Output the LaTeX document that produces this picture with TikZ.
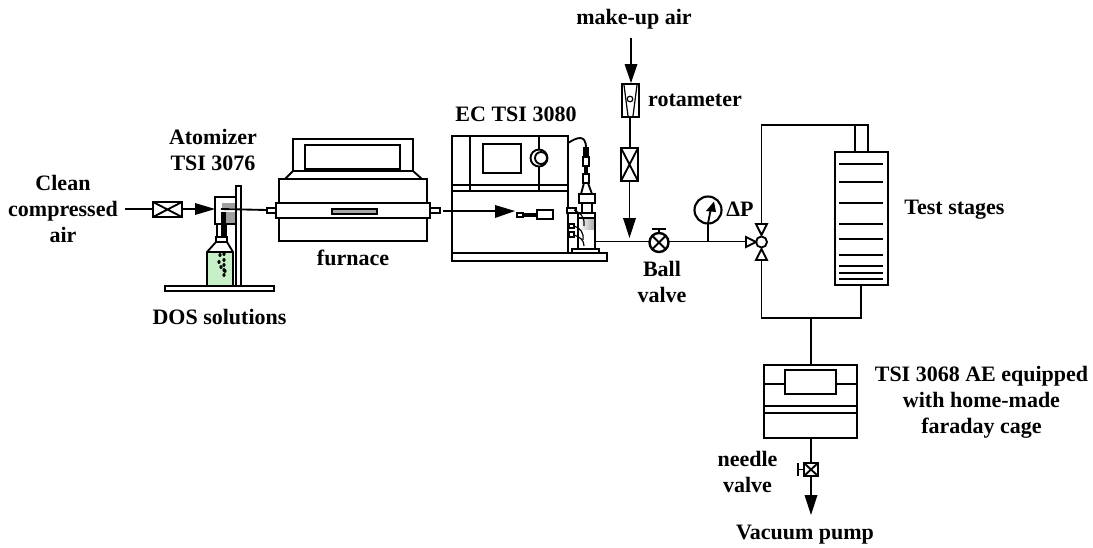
\documentclass[tikz,border=0pt]{standalone}
\usepackage{fontspec}
\setmainfont{Liberation Serif}
\definecolor{liquid}{RGB}{200,240,200}
\tikzset{
 x=0.75pt,y=-0.75pt,
 ln/.style={draw=black,line width=1.4pt,line join=miter},
 thn/.style={draw=black,line width=0.9pt},
 lbl/.style={font=\bfseries\fontsize{16.5}{19.4}\selectfont,align=center,inner sep=0pt,text=black},
 head/.style={fill=black,draw=none},
 hatch/.style={draw=none,fill=gray!75},
}
\begin{document}
\begin{tikzpicture}
\useasboundingbox (0,0) rectangle (1093,547);
% coordinates
\coordinate (cleanS) at (125,209);
\coordinate (atomIn) at (215,209);
\coordinate (atomOut) at (267,210);
\coordinate (furnOut) at (443,211);
\coordinate (ecTip) at (515,211);
\coordinate (mainS) at (595,241.5);
\coordinate (makeS) at (631,38);
\coordinate (valveC) at (761.5,242);
% labels
\node[lbl] (t1) at (63,209) {Clean\\compressed\\air};
\node[lbl] (t2) at (213,150) {Atomizer\\TSI 3076};
\node[lbl] (t3) at (219.5,317) {DOS solutions};
\node[lbl] (t4) at (353,258) {furnace};
\node[lbl] (t5) at (516,114) {EC TSI 3080};
\node[lbl] (t6) at (634,19) {make-up air};
\node[lbl] (t7) at (695,100) {rotameter};
\node[lbl] (t8) at (662,282) {Ball\\valve};
\node[lbl] (t9) at (740,209) {ΔP};
\node[lbl] (t10) at (954.5,210) {Test stages};
\node[lbl] (t11) at (981.5,402) {TSI 3068 AE equipped\\with home-made\\faraday cage};
\node[lbl] (t12) at (747.5,472) {needle\\valve};
\node[lbl] (t13) at (805,535) {Vacuum pump};
% clean air feed
\draw[ln] (153,202) rectangle (182,217) (153,202) -- (182,217) (153,217) -- (182,202);
\draw[ln] (cleanS) -- (153,209);
\draw[ln] (182,209) -- (197,209);
\fill[head] (atomIn) -- (195,203) -- (195,215) -- cycle;
% atomizer
\fill[liquid] (207,252) rectangle (233,285);
\draw[ln] (207,286) -- (207,252) -- (216,242) -- (216,237) -- (227,237) -- (227,242) -- (233,252) -- (233,286);
\draw[ln] (207,252) -- (233,252);
\draw[ln] (216,242) -- (227,242);
\draw[ln] (217,224) -- (217,237) (226,224) -- (226,237);
\draw[ln] (215,197) rectangle (237,224);
\fill[hatch] (222,203) rectangle (235,208);
\fill[hatch] (226,212) rectangle (235,223);
\fill[black] (221,212) rectangle (226,237);
\draw[ln,fill=white] (236,186) rectangle (241,287);
\draw[ln,fill=white] (165,286) rectangle (274,291);
\foreach \p/\q in {220/255,224/254,219/262,224/260,221/267,224/265,224/270,224/275,225/271}
  \fill[black] (\p,\q) ellipse (1.6 and 2);
\draw[ln] (221,209) -- (atomOut);
% furnace
\draw[ln] (293,171) -- (293,139) -- (413,139) -- (413,171);
\draw[ln] (305,145) rectangle (400,169);
\draw[ln] (285,179) -- (293,171) -- (413,171) -- (422,179);
\draw[ln] (279,179) rectangle (427,241);
\draw[ln,fill=white] (276,203) rectangle (430,218);
\draw[ln,fill=gray!70] (332,209) rectangle (377,214);
\draw[ln,fill=white] (267,208) rectangle (276,213);
\draw[ln,fill=white] (430,208) rectangle (440,213);
% EC
\draw[ln] (452,136) rectangle (568,185);
\draw[ln] (470,136) -- (470,191) (539,136) -- (539,150) (539,166) -- (539,191);
\draw[ln] (483,144) rectangle (521,173);
\draw[ln] (539,158) circle (8.5);
\draw[ln,fill=white] (541,158) circle (6);
\draw[ln] (452,185) rectangle (568,191);
\draw[ln] (452,191) rectangle (568,253);
\draw[ln,line width=1.8pt] (452,253) rectangle (607,261);
\draw[ln] (568,143) .. controls (576,138) and (586,133) .. (586,148);
\draw[ln] (furnOut) -- (496,211);
\fill[head] (ecTip) -- (495,205) -- (495,218) -- cycle;
\draw[ln] (517,213) rectangle (523,217);
\draw[ln] (523,214) rectangle (537,216);
\draw[ln] (537,210) rectangle (553,219);
% column
\draw[ln,fill=black] (584,148) rectangle (588,157);
\draw[ln,fill=white] (583,157) rectangle (589,166);
\draw[ln] (585,166) rectangle (587,174);
\draw[ln,fill=white] (583,174) rectangle (589,183);
\draw[ln] (584,183) -- (581,194) (588,183) -- (592,194);
\draw[ln] (579,194) rectangle (595,203);
\draw[ln] (582,203) rectangle (592,213);
\shade[left color=white,right color=gray!70] (579,218) rectangle (595,229);
\draw[ln] (578,213) rectangle (595,249);
\draw[ln] (578,218) -- (595,218);
\draw[ln] (572,249) rectangle (599,253);
\draw[ln,fill=white] (567,208) rectangle (576,213);
\draw[ln,fill=white] (569,224) rectangle (574,228);
\draw[ln,fill=white] (569,232) rectangle (574,237);
\draw[thn] (574,210) .. controls (580,213) and (585,216) .. (584,226);
\draw[thn] (574,226) .. controls (580,228) and (584,232) .. (583,240);
\draw[thn] (574,235) .. controls (580,237) and (584,240) .. (584,246);
% main line
\draw[ln] (mainS) -- (746,241.5);
% make-up
\draw[ln] (makeS) -- (631,66);
\fill[head] (631,83) -- (624.5,64) -- (637.5,64) -- cycle;
\draw[ln] (622,84) rectangle (639,117);
\draw[thn] (624,85) -- (628,116) (637,85) -- (633,116);
\draw[thn] (630,99) circle (2.8);
\draw[ln] (630,117) -- (630,148);
\draw[ln] (621,148) rectangle (638,181) (621,148) -- (638,181) (621,181) -- (638,148);
\draw[ln] (629.5,181) -- (629.5,220);
\fill[head] (629.5,238) -- (623,218) -- (636,218) -- cycle;
% ball valve
\draw[ln,line width=1.8pt,fill=white] (659,242.5) circle (9.5);
\draw[ln] (652.3,235.8) -- (665.7,249.2) (652.3,249.2) -- (665.7,235.8);
\draw[ln] (659,233) -- (659,229) (652,229) -- (666,229);
% gauge
\draw[ln,line width=1.6pt,fill=white] (708,210) circle (13.5);
\draw[ln] (708,223.5) -- (708,241.5);
\draw[ln] (708,223.5) -- (711,208);
\fill[head] (714,201.5) -- (706,211) -- (716,212) -- cycle;
% 3-way valve
\draw[ln] (746,237) -- (746,247) -- (756,242) -- cycle;
\draw[ln] (756,224) -- (767,224) -- (761.5,235) -- cycle;
\draw[ln] (756,260) -- (767,260) -- (761.5,249) -- cycle;
\draw[ln] (valveC) circle (5.5);
% loop
\draw[ln] (761.5,224) -- (761.5,125) -- (868,125) -- (868,152);
\draw[ln] (855,125) -- (855,152);
\draw[ln] (835,152) rectangle (888,285);
\foreach \yy in {164,182,203,224,239,255,266,273,279} \draw[ln] (839,\yy) -- (883,\yy);
\draw[ln] (861,285) -- (861,318) -- (761.5,318) -- (761.5,260);
\draw[ln] (811,318) -- (811,365);
% AE
\draw[ln] (764,365) rectangle (857,438);
\draw[ln] (785,370) rectangle (836,394);
\draw[ln] (764,384) -- (785,384) (836,384) -- (857,384);
\draw[ln] (764,406) -- (857,406) (764,413) -- (857,413);
\draw[ln] (811,438) -- (811,497);
\fill[head] (811,515) -- (804.5,495) -- (817.5,495) -- cycle;
\draw[ln,fill=white] (804,463) rectangle (818,476) (804,463) -- (818,476) (804,476) -- (818,463);
\draw[ln] (804,469.5) -- (798,469.5) (798,463) -- (798,476);
\end{tikzpicture}
\end{document}
